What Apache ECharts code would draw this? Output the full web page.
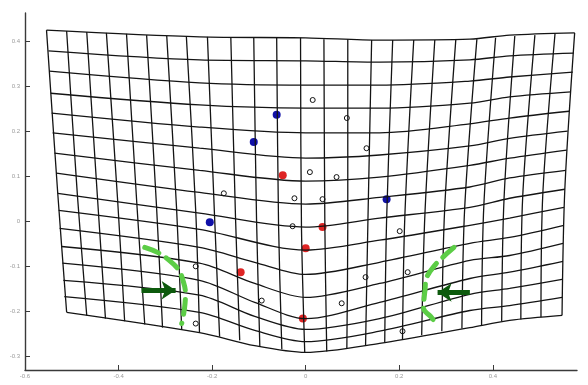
<!DOCTYPE html>
<html>
<head>
<meta charset="utf-8">
<script src="https://cdn.jsdelivr.net/npm/echarts@6/dist/echarts.min.js"></script>
<style>
  html, body { margin: 0; padding: 0; background: #fff; }
  #chart { width: 588px; height: 385px; }
</style>
</head>
<body>
<div id="chart"></div>
<script>
var xTicks = [-0.6, -0.4, -0.2, 0, 0.2, 0.4];
var yTicks = [-0.3, -0.2, -0.1, 0, 0.1, 0.2, 0.3, 0.4];

// warped grid, horizontal lines (top to bottom)
var rowLines = [
  [[-0.554, 0.424], [-0.227, 0.409], [0, 0.407], [0.158, 0.402], [0.351, 0.404], [0.436, 0.413], [0.575, 0.418]],
  [[-0.550, 0.378], [-0.227, 0.358], [0, 0.356], [0.158, 0.353], [0.351, 0.358], [0.436, 0.367], [0.573, 0.373]],
  [[-0.548, 0.333], [-0.227, 0.307], [0, 0.302], [0.158, 0.302], [0.351, 0.311], [0.436, 0.320], [0.571, 0.331]],
  [[-0.545, 0.284], [-0.227, 0.258], [0, 0.251], [0.158, 0.251], [0.351, 0.262], [0.436, 0.276], [0.567, 0.287]],
  [[-0.543, 0.240], [-0.227, 0.209], [0, 0.196], [0.158, 0.196], [0.351, 0.216], [0.436, 0.229], [0.563, 0.244]],
  [[-0.541, 0.196], [-0.227, 0.162], [0, 0.140], [0.158, 0.147], [0.351, 0.167], [0.436, 0.184], [0.560, 0.200]],
  [[-0.537, 0.151], [-0.227, 0.113], [0, 0.089], [0.158, 0.098], [0.351, 0.124], [0.436, 0.140], [0.558, 0.158]],
  [[-0.533, 0.107], [-0.227, 0.064], [0, 0.038], [0.158, 0.053], [0.351, 0.076], [0.436, 0.096], [0.556, 0.113]],
  [[-0.530, 0.062], [-0.227, 0.018], [0, -0.013], [0.158, 0.007], [0.351, 0.031], [0.436, 0.051], [0.554, 0.071]],
  [[-0.528, 0.024], [-0.227, -0.018], [0, -0.064], [0.158, -0.042], [0.351, -0.009], [0.436, 0.007], [0.552, 0.031]],
  [[-0.526, -0.016], [-0.227, -0.058], [-0.109, -0.091], [0, -0.118], [0.158, -0.091], [0.351, -0.049], [0.436, -0.036], [0.552, -0.009]],
  [[-0.522, -0.056], [-0.227, -0.093], [-0.109, -0.138], [0, -0.169], [0.158, -0.138], [0.351, -0.087], [0.436, -0.076], [0.550, -0.049]],
  [[-0.520, -0.093], [-0.227, -0.131], [-0.109, -0.180], [0, -0.216], [0.158, -0.180], [0.351, -0.127], [0.436, -0.113], [0.550, -0.089]],
  [[-0.518, -0.131], [-0.227, -0.164], [-0.109, -0.211], [0, -0.240], [0.158, -0.216], [0.351, -0.162], [0.436, -0.149], [0.548, -0.129]],
  [[-0.516, -0.167], [-0.227, -0.202], [-0.109, -0.242], [0, -0.267], [0.158, -0.244], [0.351, -0.198], [0.436, -0.187], [0.548, -0.169]],
  [[-0.511, -0.202], [-0.227, -0.247], [-0.109, -0.276], [0, -0.291], [0.158, -0.271], [0.351, -0.236], [0.436, -0.220], [0.548, -0.209]]
];

// warped grid, vertical lines (left to right): top, middle, bottom
var colLines = [
  [[-0.554, 0.424], [-0.530, 0.062], [-0.511, -0.202]],
  [[-0.511, 0.422], [-0.488, 0.058], [-0.468, -0.209]],
  [[-0.468, 0.420], [-0.445, 0.051], [-0.428, -0.216]],
  [[-0.426, 0.418], [-0.402, 0.047], [-0.387, -0.222]],
  [[-0.383, 0.416], [-0.361, 0.040], [-0.344, -0.229]],
  [[-0.340, 0.413], [-0.319, 0.036], [-0.306, -0.236]],
  [[-0.297, 0.411], [-0.276, 0.029], [-0.265, -0.240]],
  [[-0.255, 0.409], [-0.235, 0.022], [-0.227, -0.247]],
  [[-0.210, 0.409], [-0.195, 0.016], [-0.184, -0.256]],
  [[-0.160, 0.407], [-0.150, 0.009], [-0.141, -0.264]],
  [[-0.111, 0.407], [-0.105, 0.002], [-0.098, -0.278]],
  [[-0.062, 0.407], [-0.058, -0.007], [-0.051, -0.284]],
  [[-0.011, 0.407], [-0.009, -0.013], [-0.002, -0.291]],
  [[0.039, 0.404], [0.041, -0.011], [0.045, -0.289]],
  [[0.090, 0.404], [0.090, -0.007], [0.088, -0.282]],
  [[0.141, 0.402], [0.133, -0.002], [0.128, -0.276]],
  [[0.186, 0.402], [0.173, 0.004], [0.169, -0.269]],
  [[0.231, 0.402], [0.212, 0.011], [0.207, -0.262]],
  [[0.276, 0.402], [0.255, 0.018], [0.248, -0.253]],
  [[0.321, 0.404], [0.297, 0.024], [0.291, -0.244]],
  [[0.366, 0.404], [0.340, 0.031], [0.334, -0.238]],
  [[0.406, 0.407], [0.381, 0.038], [0.376, -0.231]],
  [[0.447, 0.411], [0.424, 0.049], [0.419, -0.222]],
  [[0.490, 0.413], [0.464, 0.056], [0.460, -0.218]],
  [[0.533, 0.416], [0.507, 0.062], [0.503, -0.213]],
  [[0.575, 0.418], [0.554, 0.071], [0.548, -0.209]]
];

var bluePts = [[-0.062, 0.236], [-0.111, 0.176], [-0.205, -0.002], [0.173, 0.049]];
var redPts = [[-0.049, 0.102], [0.036, -0.013], [0, -0.060], [-0.139, -0.113], [-0.006, -0.216]];
var openPts = [
  [0.015, 0.269], [0.088, 0.229], [0.130, 0.162], [0.009, 0.109], [0.066, 0.098],
  [-0.175, 0.062], [-0.024, 0.051], [0.036, 0.049], [-0.028, -0.011], [0.201, -0.022],
  [0.128, -0.124], [-0.235, -0.100], [-0.094, -0.176], [0.077, -0.182], [-0.235, -0.227],
  [0.218, -0.113], [0.207, -0.244]
];

var greenLeft = [[-0.344, -0.058], [-0.317, -0.069], [-0.295, -0.084], [-0.272, -0.107],
  [-0.263, -0.129], [-0.257, -0.160], [-0.259, -0.193], [-0.265, -0.227]];
var greenRight = [[0.317, -0.058], [0.293, -0.080], [0.276, -0.098], [0.259, -0.124],
  [0.255, -0.153], [0.252, -0.193], [0.267, -0.211], [0.284, -0.233]];

var arrowLeft = [[-0.351, -0.153], [-0.278, -0.153]];
var arrowRight = [[0.351, -0.158], [0.282, -0.158]];

var axisColor = '#3a3a3a';
var labelStyle = { color: '#9a9a9a', fontSize: 6, fontFamily: 'Liberation Sans' };

var series = [];
rowLines.concat(colLines).forEach(function (pts) {
  series.push({
    type: 'line', data: pts, smooth: 0.3, showSymbol: false, silent: true,
    lineStyle: { color: '#141414', width: 1.3 }
  });
});
[greenLeft, greenRight].forEach(function (pts) {
  series.push({
    type: 'line', data: pts, smooth: 0.4, showSymbol: false, silent: true,
    lineStyle: { color: '#5ccd46', width: 5, type: [15, 9], cap: 'round' }
  });
});
series.push({
  type: 'scatter', data: openPts, symbolSize: 5, silent: true,
  itemStyle: { color: '#fff', borderColor: '#111', borderWidth: 1, opacity: 1 }
});
series.push({ type: 'scatter', data: bluePts, symbolSize: 8, silent: true, itemStyle: { color: '#1010a8', opacity: 1 } });
series.push({ type: 'scatter', data: redPts, symbolSize: 8, silent: true, itemStyle: { color: '#de2424', opacity: 1 } });
series.push({
  type: 'line', data: [], silent: true,
  markLine: {
    silent: true,
    symbol: ['none', 'arrow'],
    symbolSize: [14, 14],
    label: { show: false },
    lineStyle: { color: '#0d5a0d', width: 5, type: 'solid' },
    data: [
      [{ coord: arrowLeft[0] }, { coord: arrowLeft[1] }],
      [{ coord: arrowRight[0] }, { coord: arrowRight[1] }]
    ]
  }
});

var chart = echarts.init(document.getElementById('chart'));
chart.setOption({
  animation: false,
  grid: { left: 25, right: 11, top: 13, bottom: 15 },
  xAxis: {
    type: 'value', min: -0.6, max: 0.58,
    axisLine: { onZero: false, lineStyle: { color: axisColor, width: 1.4 } },
    axisTick: { inside: true, length: 5, customValues: xTicks, lineStyle: { color: axisColor } },
    axisLabel: Object.assign({ margin: 3, customValues: xTicks }, labelStyle),
    splitLine: { show: false }
  },
  yAxis: {
    type: 'value', min: -0.33, max: 0.462,
    axisLine: { show: true, onZero: false, lineStyle: { color: axisColor, width: 1.4 } },
    axisTick: { show: true, inside: true, length: 5, customValues: yTicks, lineStyle: { color: axisColor } },
    axisLabel: Object.assign({ margin: 5, customValues: yTicks }, labelStyle),
    splitLine: { show: false }
  },
  series: series
});
</script>
</body>
</html>
